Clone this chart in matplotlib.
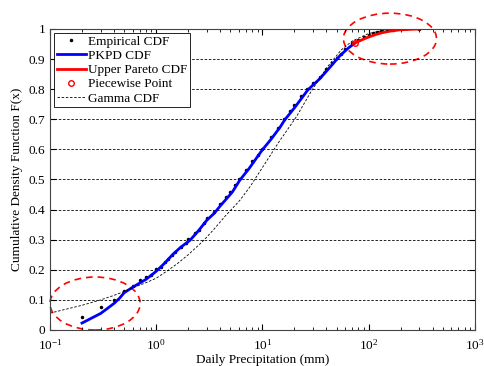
import matplotlib
matplotlib.use('Agg')
import matplotlib.pyplot as plt
from matplotlib.patches import Ellipse

plt.rcParams['font.family'] = ['Liberation Serif', 'DejaVu Serif']
plt.rcParams['mathtext.fontset'] = 'custom'
plt.rcParams['mathtext.rm'] = 'Liberation Serif'
plt.rcParams['font.size'] = 9.5

# empirical CDF (dots)
emp_x = [0.2, 0.3, 0.4, 0.5, 0.6, 0.7, 0.8, 0.9, 1.0, 1.1, 1.2, 1.3, 1.4, 1.5,
         1.7, 1.9, 2.0, 2.3, 2.5, 2.8, 3.0, 3.5, 4.0, 4.5, 5.0, 5.5, 6.0, 7.0,
         8.0, 9.0, 10, 12, 14, 16, 18, 20, 23, 26, 30, 35, 40, 45, 50, 55, 60,
         70, 80, 90, 100, 110, 120, 130, 150, 170, 300]
emp_y = [0.042, 0.075, 0.098, 0.13, 0.147, 0.165, 0.177, 0.182, 0.203, 0.21,
         0.225, 0.235, 0.25, 0.26, 0.275, 0.29, 0.303, 0.322, 0.333, 0.357,
         0.372, 0.392, 0.417, 0.442, 0.457, 0.482, 0.502, 0.532, 0.562, 0.582,
         0.602, 0.642, 0.672, 0.702, 0.727, 0.747, 0.777, 0.802, 0.822, 0.842,
         0.867, 0.887, 0.902, 0.917, 0.932, 0.952, 0.964, 0.974, 0.981, 0.986,
         0.99, 0.993, 0.996, 0.998, 1.0]

# PKPD CDF
pk_x = [0.2, 0.3, 0.4, 0.45, 0.5, 0.6, 0.7, 0.8, 1.0, 1.2, 1.44, 1.7, 2.08,
        2.5, 3.0, 3.5, 4.0, 5.2, 6.1, 7.5, 9.9, 12, 14.6, 16.2, 20, 26.8, 34.7,
        42, 53.8, 65, 74]
pk_y = [0.023, 0.055, 0.088, 0.105, 0.124, 0.142, 0.156, 0.168, 0.195, 0.222,
        0.252, 0.275, 0.298, 0.33, 0.365, 0.387, 0.412, 0.458, 0.497, 0.537,
        0.597, 0.633, 0.673, 0.698, 0.738, 0.798, 0.835, 0.868, 0.912, 0.938,
        0.953]

# upper Pareto CDF
par_x = [74, 85, 96, 115, 135, 160, 195, 250, 302]
par_y = [0.953, 0.963, 0.971, 0.981, 0.988, 0.993, 0.997, 0.999, 1.0]

# piecewise point
pw_x = [74]
pw_y = [0.953]

# Gamma CDF
gam_x = [0.1, 0.2, 0.3, 0.4, 0.5, 0.6, 0.8, 1.0, 1.29, 1.6, 2.0, 2.75, 3.5,
         4.5, 6.1, 7.6, 10, 14.3, 21, 29, 40, 55, 70, 100, 140, 200, 300]
gam_y = [0.056, 0.082, 0.1, 0.115, 0.128, 0.14, 0.157, 0.172, 0.198, 0.222,
         0.25, 0.295, 0.335, 0.38, 0.43, 0.475, 0.54, 0.625, 0.71, 0.795,
         0.87, 0.93, 0.96, 0.985, 0.996, 1.0, 1.0]

fig = plt.figure(figsize=(4.84, 3.66), dpi=100)
ax = fig.add_axes([0.1033, 0.0984, 0.878, 0.8224])

ax.plot(emp_x, emp_y, 'k.', markersize=3, label='Empirical CDF')
ax.plot(pk_x, pk_y, color='b', lw=2, label='PKPD CDF')
ax.plot(par_x, par_y, color='r', lw=2, label='Upper Pareto CDF')
ax.plot(pw_x, pw_y, 'o', mfc='none', mec='r', markersize=4, label='Piecewise Point')
ax.plot(gam_x, gam_y, 'k--', lw=0.6, dashes=(3, 2), label='Gamma CDF')

ax.set_xscale('log')
ax.set_xlim(0.1, 1000)
ax.set_ylim(0, 1)
ax.set_yticks([0, 0.1, 0.2, 0.3, 0.4, 0.5, 0.6, 0.7, 0.8, 0.9, 1])
ax.set_yticklabels(['0', '0.1', '0.2', '0.3', '0.4', '0.5', '0.6', '0.7', '0.8', '0.9', '1'])
ax.yaxis.grid(True, linestyle=(0, (3, 2)), color='k', lw=0.6)
ax.tick_params(which='both', direction='in', top=True, right=True)
ax.tick_params(which='major', length=4)
ax.tick_params(which='minor', length=2)
ax.tick_params(axis='x', pad=6)
for s in ax.spines.values():
    s.set_color('#444444')

ax.set_xlabel('Daily Precipitation (mm)', labelpad=1)
ax.set_ylabel('Cumulative Density Function F(x)')

# highlight ellipses
for cx, cy, w, h in [(0.106, 0.088, 0.212, 0.176), (0.80, 0.968, 0.219, 0.169)]:
    e = Ellipse((cx, cy), w, h, transform=ax.transAxes, fill=False,
                edgecolor='r', linestyle=(0, (4, 3)), lw=1.2, clip_on=False)
    ax.add_patch(e)

leg = ax.legend(loc='upper left', fancybox=False, framealpha=1, edgecolor='k',
                borderpad=0.2, labelspacing=0.15, handlelength=2.2,
                handletextpad=0.2, borderaxespad=0.3)
leg.get_frame().set_linewidth(0.6)

fig.savefig('out.png', dpi=100)
